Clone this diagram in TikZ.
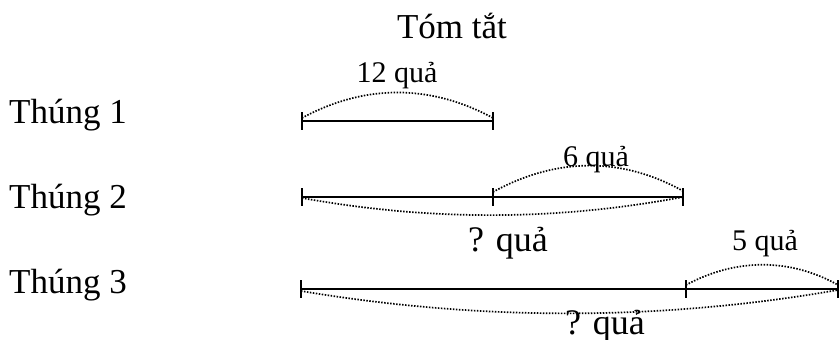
\documentclass[tikz,border=0pt]{standalone}
\usepackage{fontspec}
\setmainfont{Liberation Serif}
\begin{document}
\begin{tikzpicture}[x=1pt,y=-1pt,
  bar/.style={line width=1.6pt},
  tick/.style={line width=1.5pt},
  arc/.style={line width=1.7pt, dash pattern=on 1.5pt off 1.5pt},
  big/.style={font=\fontsize{35}{40}\selectfont, inner sep=0pt, anchor=base},
  mid/.style={font=\fontsize{36}{40}\selectfont, inner sep=0pt, anchor=base},
  small/.style={font=\fontsize{30}{34}\selectfont, inner sep=0pt, anchor=base}]
\useasboundingbox (0,0) rectangle (839,340);
% titles
\node[big] (title) at (452,38.5) {Tóm tắt};
\node[big, anchor=base west] (t1) at (9,123) {Thúng 1};
\node[big, anchor=base west] (t2) at (9,208) {Thúng 2};
\node[big, anchor=base west] (t3) at (9,293) {Thúng 3};
% row 1
\coordinate (a1) at (302,121);
\coordinate (b1) at (493,121);
\draw[bar] (a1) -- (b1);
\foreach \p in {a1,b1} \draw[tick] ([yshift=9pt]\p) -- ([yshift=-9pt]\p);
\draw[arc] ([yshift=3pt]a1) .. controls (365,84) and (430,84) .. ([yshift=3pt]b1);
\node[small] (l1) at (397,82) {12 quả};
% row 2
\coordinate (a2) at (302,197);
\coordinate (b2) at (493,197);
\coordinate (c2) at (683,197);
\draw[bar] (a2) -- (c2);
\foreach \p in {a2,b2,c2} \draw[tick] ([yshift=9pt]\p) -- ([yshift=-9pt]\p);
\draw[arc] ([yshift=5pt]b2) .. controls (555,158) and (620,156) .. ([yshift=6pt]c2);
\draw[arc] ([yshift=-1pt]a2) .. controls (430,221) and (555,221) .. (c2);
\node[small] (l2) at (596,166) {6 quả};
\node[mid] (q2) at (508,251) {? quả};
% row 3
\coordinate (a3) at (301,289);
\coordinate (b3) at (686,289);
\coordinate (c3) at (838,289);
\draw[bar] (a3) -- (c3);
\foreach \p in {a3,b3,c3} \draw[tick] ([yshift=9pt]\p) -- ([yshift=-9pt]\p);
\draw[arc] ([yshift=4pt]b3) .. controls (736,258) and (790,258) .. ([yshift=4pt]c3);
\draw[arc] ([yshift=-2pt]a3) .. controls (480,321) and (660,321) .. ([yshift=-1pt]c3);
\node[small] (l3) at (765,250) {5 quả};
\node[mid] (q3) at (605,334) {? quả};
\end{tikzpicture}
\end{document}
